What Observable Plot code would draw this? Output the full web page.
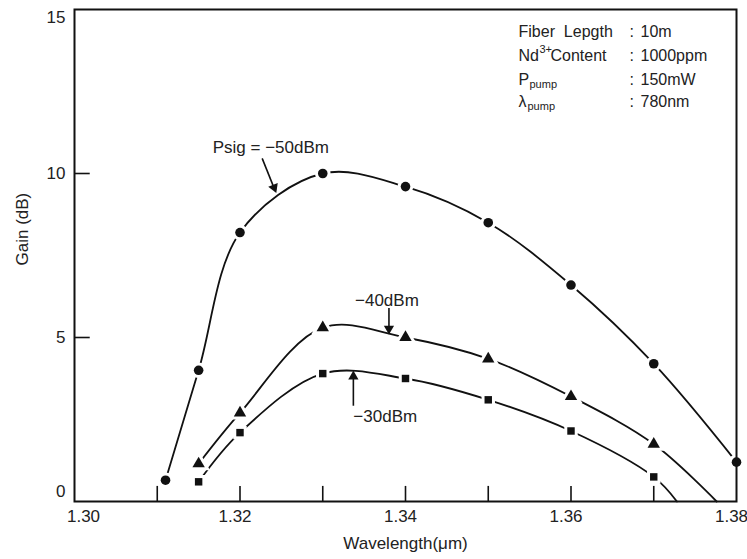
<!DOCTYPE html>
<html><head><meta charset="utf-8">
<script src="https://cdn.jsdelivr.net/npm/d3@7"></script>
<script src="https://cdn.jsdelivr.net/npm/@observablehq/plot@0.6"></script>
<style>
body{margin:0;background:#fff;}
#chart svg{font-family:"Liberation Sans",Arial,sans-serif;}
</style></head><body><div id="chart"></div>
<script>
// ---- data ----
const wl50 = [1.311, 1.315, 1.32, 1.33, 1.34, 1.35, 1.36, 1.37, 1.38];
const gain50 = [0.65, 4.0, 8.2, 10.0, 9.6, 8.5, 6.6, 4.2, 1.2];
const wl40 = [1.315, 1.32, 1.33, 1.34, 1.35, 1.36, 1.37];
const gain40 = [1.15, 2.7, 5.3, 5.0, 4.35, 3.2, 1.75];
const wl30 = [1.315, 1.32, 1.33, 1.34, 1.35, 1.36, 1.37];
const gain30 = [0.6, 2.1, 3.9, 3.75, 3.1, 2.15, 0.75];
// wavelengths where the -40 and -30 dBm curves reach 0 dB
const zeroCross40 = 1.3776;
const zeroCross30 = 1.3728;

const xMinorTicks = [1.31, 1.32, 1.33, 1.34, 1.35, 1.36, 1.37];
const xLabels = [1.32, 1.34, 1.36, 1.38];
const xFirstLabel = [1.30];
const yTicks = [5, 10];
const yLabelsMid = [5, 10];
const yLabelBottom = [0];
const yLabelTop = [15];

const infoKeys = ["Fiber  Lepgth", "Nd", "P", "λ"];
const infoSups = ["", "3+", "", ""];
const infoSubs = ["", "", "pump", "pump"];
const infoAfter = ["", "Content", "", ""];
const infoValues = ["10m", "1000ppm", "150mW", "780nm"];

const labelM50 = "Psig = −50dBm";
const labelM40 = "−40dBm";
const labelM30 = "−30dBm";

// ---- tables ----
const pts = (wl, g, s) => wl.map((w, i) => ({w, g: g[i], s}));
const p50 = pts(wl50, gain50, "-50");
const p40 = pts(wl40, gain40, "-40");
const p30 = pts(wl30, gain30, "-30");
const lines = [
  ...p50,
  ...p40, {w: zeroCross40, g: 0, s: "-40"},
  ...p30, {w: zeroCross30, g: 0, s: "-30"}
];

const INK = "#111";
const TXT = "#222";
const fmt = d3.format(".2f");

const infoMarks = [];
const rowY = [22, 46, 70, 92];
infoKeys.forEach((k, i) => {
  const y = rowY[i];
  infoMarks.push(Plot.text([k], {frameAnchor: "top-left", dx: 444, dy: y, textAnchor: "start", lineAnchor: "middle", fontSize: 16, fill: TXT}));
  if (infoSups[i]) {
    infoMarks.push(Plot.text([infoSups[i]], {frameAnchor: "top-left", dx: 465, dy: y - 6, textAnchor: "start", lineAnchor: "middle", fontSize: 11, fill: TXT}));
  }
  if (infoAfter[i]) {
    infoMarks.push(Plot.text([infoAfter[i]], {frameAnchor: "top-left", dx: 476, dy: y, textAnchor: "start", lineAnchor: "middle", fontSize: 16, fill: TXT}));
  }
  if (infoSubs[i]) {
    infoMarks.push(Plot.text([infoSubs[i]], {frameAnchor: "top-left", dx: k === "P" ? 455 : 453, dy: y + 5, textAnchor: "start", lineAnchor: "middle", fontSize: 11, fill: TXT}));
  }
  infoMarks.push(Plot.text([":"], {frameAnchor: "top-left", dx: 555, dy: y, textAnchor: "start", lineAnchor: "middle", fontSize: 16, fill: TXT}));
  infoMarks.push(Plot.text([infoValues[i]], {frameAnchor: "top-left", dx: 566, dy: y, textAnchor: "start", lineAnchor: "middle", fontSize: 16, fill: TXT}));
});

const dotStyle = {x: "w", y: "g", fill: INK, stroke: "white", strokeWidth: 6, paintOrder: "stroke"};
const headStyle = {fill: INK, stroke: "none", symbol: "triangle", r: 3.8};

const chart = Plot.plot({
  width: 747,
  height: 559,
  marginLeft: 74,
  marginRight: 11,
  marginTop: 9,
  marginBottom: 58,
  x: {domain: [1.30, 1.38]},
  y: {domain: [0, 15]},
  style: {fontFamily: "'Liberation Sans', Arial, sans-serif", fontSize: "17px", color: TXT, background: "white"},
  marks: [
    // tick marks pointing into the frame
    Plot.ruleX(xMinorTicks, {x: d => d, y1: () => 0, y2: () => 0.46, stroke: INK, strokeWidth: 1.6}),
    Plot.ruleY(yTicks, {y: d => d, x1: () => 1.30, x2: () => 1.3019, stroke: INK, strokeWidth: 1.6}),
    Plot.axisX({ticks: xLabels, tickSize: 0, tickPadding: 8, tickFormat: fmt, label: null, dx: -5, fontSize: 17}),
    Plot.axisX({ticks: xFirstLabel, tickSize: 0, tickPadding: 8, tickFormat: fmt, label: null, dx: 9, fontSize: 17}),
    Plot.axisY({ticks: yLabelsMid, tickSize: 0, tickPadding: 9, label: null, fontSize: 17}),
    Plot.axisY({ticks: yLabelBottom, tickSize: 0, tickPadding: 9, label: null, dy: -10, fontSize: 17}),
    Plot.axisY({ticks: yLabelTop, tickSize: 0, tickPadding: 9, label: null, dy: 8, fontSize: 17}),
    Plot.text(["Wavelength(μm)"], {frameAnchor: "bottom", dy: 47, fontSize: 17, fill: TXT}),
    Plot.text(["Gain (dB)"], {frameAnchor: "left", dx: -52, dy: 10, rotate: -90, fontSize: 17, fill: TXT}),
    // curves
    Plot.line(lines, {x: "w", y: "g", z: "s", curve: "catmull-rom", stroke: INK, strokeWidth: 1.8}),
    // markers (white halo breaks the curve around each point)
    Plot.dot(p50, {...dotStyle, symbol: "circle", r: 4.8}),
    Plot.dot(p40, {...dotStyle, symbol: "triangle", r: 4.6}),
    Plot.dot(p30, {...dotStyle, symbol: "square", r: 4.2}),
    // annotations with filled arrowheads
    Plot.text([labelM50], {x: 1.3167, y: 10.78, textAnchor: "start", fontSize: 17, fill: TXT}),
    Plot.link([0], {x1: 1.32268, y1: 10.46, x2: 1.32405, y2: 9.6, stroke: INK, strokeWidth: 1.6}),
    Plot.dot([0], {...headStyle, x: () => 1.32412, y: () => 9.57, rotate: 158}),
    Plot.text([labelM40], {x: 1.3339, y: 6.13, textAnchor: "start", fontSize: 17, fill: TXT}),
    Plot.link([0], {x1: 1.3380, y1: 5.9, x2: 1.3380, y2: 5.3, stroke: INK, strokeWidth: 1.6}),
    Plot.dot([0], {...headStyle, x: () => 1.3380, y: () => 5.27, rotate: 180}),
    Plot.text([labelM30], {x: 1.3337, y: 2.6, textAnchor: "start", fontSize: 17, fill: TXT}),
    Plot.link([0], {x1: 1.3337, y1: 2.92, x2: 1.3337, y2: 3.78, stroke: INK, strokeWidth: 1.6}),
    Plot.dot([0], {...headStyle, x: () => 1.3337, y: () => 3.81, rotate: 0}),
    ...infoMarks,
    Plot.frame({stroke: INK, strokeWidth: 2})
  ]
});
document.getElementById("chart").append(chart);
</script></body></html>
